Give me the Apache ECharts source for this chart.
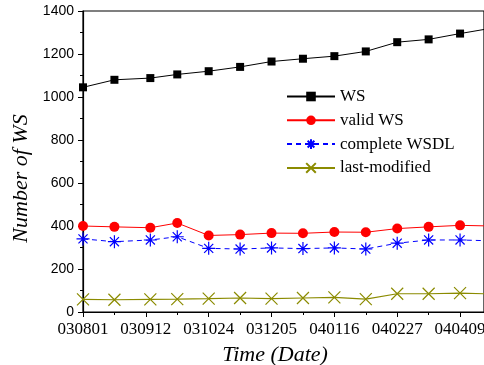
<!DOCTYPE html>
<html><head><meta charset="utf-8">
<script src="https://cdn.jsdelivr.net/npm/echarts@6/dist/echarts.min.js"></script>
<style>html,body{margin:0;padding:0;background:#fff}#c{width:484px;height:365px}</style>
</head><body><div id="c"></div>
<script>
// days since 2003-08-01
var days = [0, 21, 45, 63, 84, 105, 126, 147, 168, 189, 210, 231, 252, 273];
var tickLabels = ['030801', '030912', '031024', '031205', '040116', '040227', '040409'];
var ws = [1045, 1080, 1088, 1105, 1120, 1140, 1165, 1178, 1190, 1212, 1255, 1268, 1295, 1320];
var validWs = [400, 396, 392, 414, 356, 360, 367, 366, 372, 371, 388, 396, 403, 400];
var completeWsdl = [340, 327, 335, 350, 296, 293, 298, 295, 298, 293, 320, 335, 335, 331];
var lastModified = [59, 57, 59, 60, 62, 65, 62, 65, 68, 60, 85, 85, 88, 84];

function pairs(v) { return days.map(function (d, i) { return [d, v[i]]; }); }

var serif = 'Liberation Serif';
var sans = 'Liberation Sans';
var starPath = 'path://M10,0L10,20M0,10L20,10M3,3L17,17M17,3L3,17';
var xPath = 'path://M0,0L20,20M20,0L0,20';

var chart = echarts.init(document.getElementById('c'), null, {renderer: 'canvas'});
chart.setOption({
  animation: false,
  backgroundColor: '#fff',
  grid: {left: 83, top: 11, right: 0, bottom: 53, containLabel: false, outerBoundsMode: 'none',
         show: true, borderColor: '#000', borderWidth: 1.2},
  legend: {
    orient: 'vertical', left: 286, top: 88, padding: 0, itemWidth: 48, itemHeight: 12, itemGap: 6.8,
    textStyle: {fontFamily: serif, fontSize: 17, color: '#000'},
    data: ['WS', 'valid WS', 'complete WSDL', 'last-modified']
  },
  xAxis: {
    type: 'value', min: 0, max: 268, interval: 42,
    axisLine: {lineStyle: {color: '#000', width: 1.2}},
    axisTick: {inside: false, length: 5, lineStyle: {color: '#000'}},
    minorTick: {show: true, splitNumber: 2, length: 3, lineStyle: {color: '#000'}},
    splitLine: {show: false},
    axisLabel: {
      showMaxLabel: false, margin: 9, fontFamily: serif, fontSize: 17, color: '#000',
      formatter: function (v) { if (v % 42 !== 0) return ''; return tickLabels[v / 42] || ''; }
    },
    name: 'Time (Date)', nameLocation: 'middle', nameGap: 32,
    nameTextStyle: {fontFamily: serif, fontStyle: 'italic', fontSize: 22, color: '#000', padding: [0, 17, 0, 0]}
  },
  yAxis: {
    type: 'value', min: 0, max: 1400, interval: 200,
    axisLine: {show: true, lineStyle: {color: '#000', width: 1.2}},
    axisTick: {show: true, inside: false, length: 5, lineStyle: {color: '#000'}},
    minorTick: {show: true, splitNumber: 2, length: 3, lineStyle: {color: '#000'}},
    splitLine: {show: false},
    axisLabel: {margin: 9, fontFamily: sans, fontSize: 14, color: '#000', formatter: function (v) { return String(v); }},
    name: 'Number of WS', nameLocation: 'middle', nameGap: 46,
    nameTextStyle: {fontFamily: serif, fontStyle: 'italic', fontSize: 22, color: '#000', padding: [0, 34, 0, 0]}
  },
  series: [
    {name: 'WS', type: 'line', data: pairs(ws), symbol: 'rect', symbolSize: 8,
     itemStyle: {color: '#000'}, lineStyle: {color: '#000', width: 1}},
    {name: 'valid WS', type: 'line', data: pairs(validWs), symbol: 'circle', symbolSize: 10,
     itemStyle: {color: '#ff0000'}, lineStyle: {color: '#ff0000', width: 1}},
    {name: 'complete WSDL', type: 'line', data: pairs(completeWsdl), symbol: starPath, symbolSize: 13,
     itemStyle: {color: 'none', borderColor: '#0000ff', borderWidth: 1.2},
     lineStyle: {color: '#0000ff', width: 1, type: [5, 4]}},
    {name: 'last-modified', type: 'line', data: pairs(lastModified), symbol: xPath, symbolSize: 12,
     itemStyle: {color: 'none', borderColor: '#8b8b00', borderWidth: 1.2},
     lineStyle: {color: '#8b8b00', width: 1.2}}
  ]
});
</script></body></html>
